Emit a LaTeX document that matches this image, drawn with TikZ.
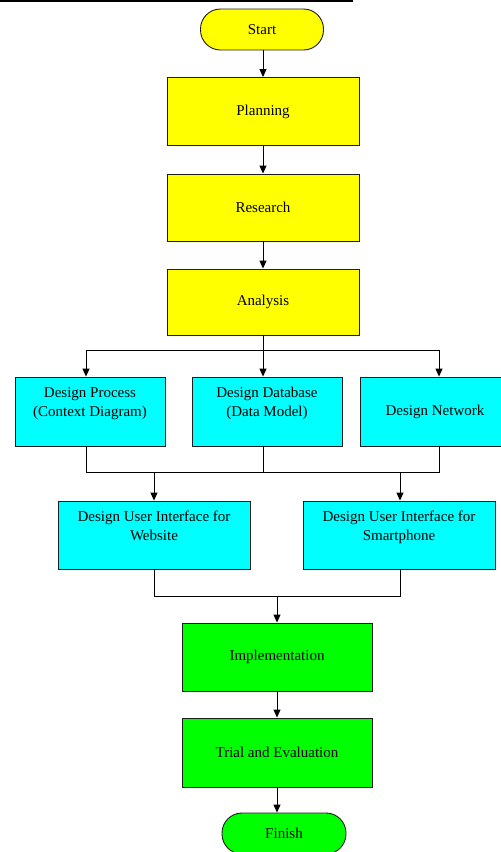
\documentclass[tikz,border=0pt]{standalone}
\usepackage{fontspec}
\setmainfont{Liberation Serif}
\newfontfamily\diafont{Liberation Serif}
\usetikzlibrary{arrows.meta,calc}
\definecolor{yel}{RGB}{255,255,0}
\definecolor{cya}{RGB}{0,255,255}
\definecolor{grn}{RGB}{0,255,0}
\definecolor{bord}{RGB}{30,30,30}
\begin{document}
\begin{tikzpicture}[x=1pt,y=-1pt,
  font=\diafont\fontsize{15}{19}\selectfont,
  box/.style={draw=bord,line width=0.9pt,rectangle,align=center,inner sep=0pt},
  ybox/.style={box,fill=yel},
  cbox/.style={box,fill=cya},
  gbox/.style={box,fill=grn},
  term/.style={rounded corners=20pt,minimum width=123pt,minimum height=41pt},
  conn/.style={line width=0.9pt,black},
  arr/.style={conn,-{Triangle[length=8pt,width=7pt]}}]
\clip (0,0) rectangle (501,852);
\fill[white] (0,0) rectangle (501,852);
\draw[line width=2.2pt] (0,1) -- (353,1);

\node[ybox,term] (start) at (262,29.5) {Start};
\node[ybox,minimum width=192pt,minimum height=68pt] (plan) at (263,111.5) {Planning};
\node[ybox,minimum width=192pt,minimum height=67pt] (res) at (263,207.5) {Research};
\node[ybox,minimum width=192pt,minimum height=66pt] (ana) at (263,302) {Analysis};

\node[cbox,minimum width=150pt,minimum height=69pt] (dp) at (90,411.5) {Design Process\\(Context Diagram)\\\mbox{}};
\node[cbox,minimum width=150pt,minimum height=69pt] (dd) at (267,411.5) {Design Database\\(Data Model)\\\mbox{}};
\node[cbox,minimum width=150pt,minimum height=69pt] (dn) at (435,411.5) {Design Network};

\node[cbox,minimum width=192pt,minimum height=68pt] (ui1) at (154,535) {Design User Interface for\\Website\\\mbox{}};
\node[cbox,minimum width=192pt,minimum height=68pt] (ui2) at (399,535) {Design User Interface for\\Smartphone\\\mbox{}};

\node[gbox,minimum width=190pt,minimum height=68pt] (impl) at (277,657) {Implementation};
\node[gbox,minimum width=190pt,minimum height=69pt] (trial) at (277,752.5) {Trial and Evaluation};
\node[gbox,term,minimum width=124pt] (fin) at (284,833.5) {Finish};

\coordinate (b1) at (86,350);
\coordinate (b2) at (263,350);
\coordinate (b3) at (439,350);
\coordinate (m1) at (86,472);
\coordinate (m2) at (263,472);
\coordinate (m3) at (439,472);
\coordinate (u1) at (154,472);
\coordinate (u2) at (400,472);
\coordinate (n1) at (154,596);
\coordinate (n2) at (277,596);
\coordinate (n3) at (400,596);

\draw[arr] (start.south -| plan.north) -- (plan.north);
\draw[arr] (plan) -- (res);
\draw[arr] (res) -- (ana);
\draw[conn] (ana.south) -- (b2);
\draw[conn] (b1) -- (b3);
\draw[arr] (b1) -- (b1 |- dp.north);
\draw[arr] (b2) -- (b2 |- dd.north);
\draw[arr] (b3) -- (b3 |- dn.north);
\draw[conn] (m1 |- dp.south) -- (m1) -- (m3) -- (m3 |- dn.south);
\draw[conn] (m2 |- dd.south) -- (m2);
\draw[arr] (u1) -- (u1 |- ui1.north);
\draw[arr] (u2) -- (u2 |- ui2.north);
\draw[conn] (n1 |- ui1.south) -- (n1) -- (n3) -- (n3 |- ui2.south);
\draw[arr] (n2) -- (impl.north);
\draw[arr] (impl) -- (trial);
\draw[arr] (trial.south) -- (trial.south |- fin.north);
\end{tikzpicture}
\end{document}
